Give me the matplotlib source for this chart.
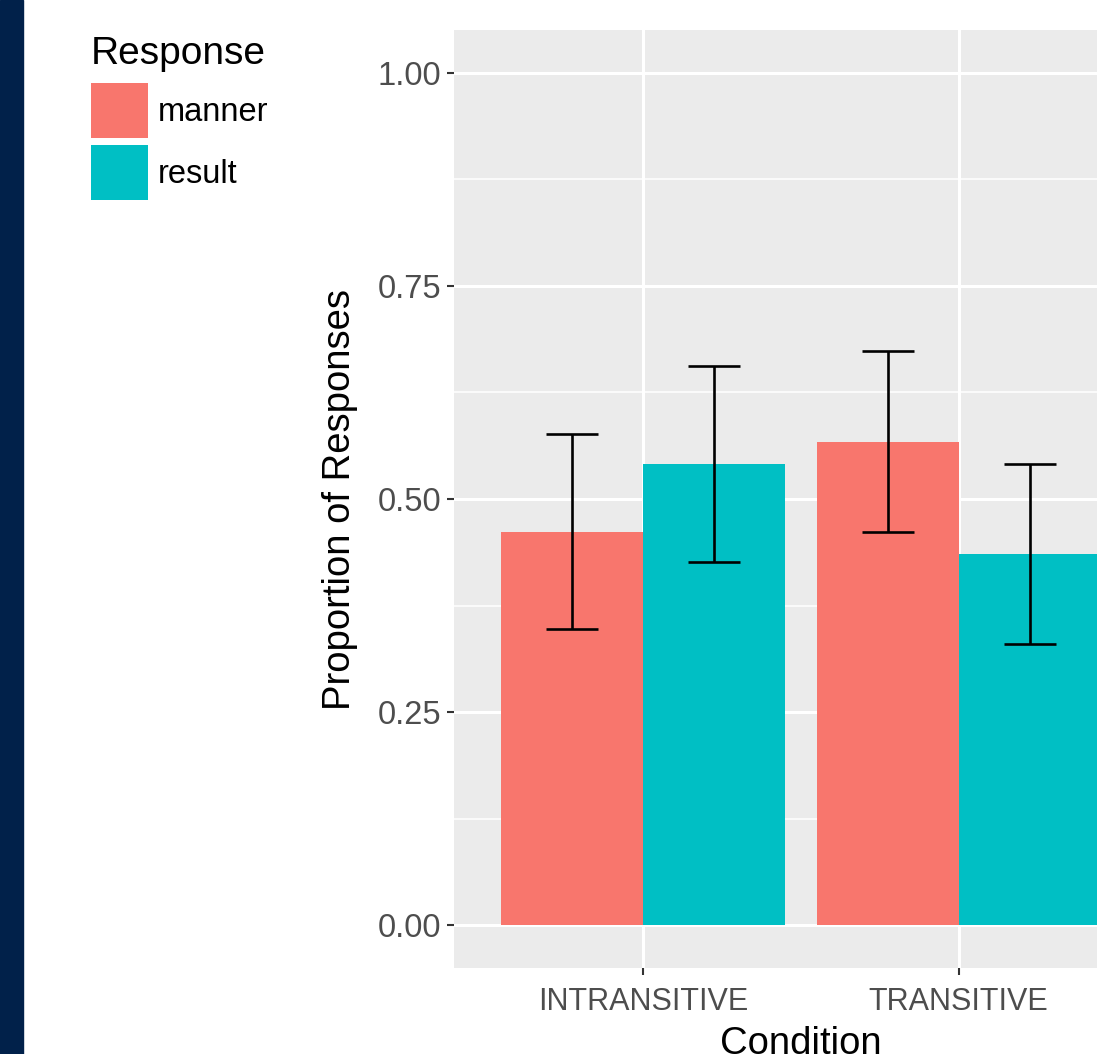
import matplotlib
matplotlib.use("Agg")
import matplotlib.pyplot as plt
import matplotlib.patches as mpatches
import numpy as np

plt.rcParams['font.family'] = ['Liberation Sans', 'DejaVu Sans']

MANNER_COLOR = '#F8766D'
RESULT_COLOR = '#00BFC4'
PANEL_COLOR = '#EBEBEB'
NAVY = '#01214A'

# data
conditions = ['INTRANSITIVE', 'TRANSITIVE']
responses = ['manner', 'result']
manner_mean = [0.461, 0.567]
manner_low = [0.348, 0.461]
manner_high = [0.576, 0.673]
result_mean = [0.541, 0.436]
result_low = [0.426, 0.330]
result_high = [0.656, 0.541]

fig = plt.figure(figsize=(10.97, 10.54), dpi=100)
fig.patch.set_facecolor('white')
# dark strip on the left edge of the slide
fig.patches.append(mpatches.Rectangle((0, 0), 23 / 1097, 1, transform=fig.transFigure,
                                      color=NAVY, zorder=0))

# the panel runs past the right edge of the picture (it is cropped)
ax = fig.add_axes((454 / 1097, 1 - 968 / 1054, (1148 - 454) / 1097, 938 / 1054))
ax.set_facecolor(PANEL_COLOR)

index = np.arange(1, len(conditions) + 1)
width = 0.45

series = [(manner_mean, manner_low, manner_high, MANNER_COLOR, -width / 2),
          (result_mean, result_low, result_high, RESULT_COLOR, width / 2)]
for (mean, low, high, color, off), name in zip(series, responses):
    mean = np.array(mean)
    err = [mean - np.array(low), np.array(high) - mean]
    ax.bar(index + off, mean, width, color=color, label=name, zorder=3)
    ax.errorbar(index + off, mean, yerr=err, fmt='none', ecolor='black',
                elinewidth=1.9, capsize=19, capthick=1.9, zorder=4)

ax.set_xlim(0.4, 2.6)
ax.set_ylim(-0.05, 1.05)
ax.set_xticks(index)
ax.set_xticklabels(conditions)
ax.set_yticks([0, 0.25, 0.5, 0.75, 1.0])
ax.set_yticklabels(['0.00', '0.25', '0.50', '0.75', '1.00'])
ax.set_yticks([0.125, 0.375, 0.625, 0.875], minor=True)
ax.grid(which='major', color='white', linewidth=2.2, zorder=0)
ax.grid(which='minor', axis='y', color='white', linewidth=1.1, zorder=0)
ax.set_axisbelow(True)
for s in ax.spines.values():
    s.set_visible(False)
ax.tick_params(axis='both', which='major', labelcolor='#4D4D4D',
               color='#333333', length=5, width=1.5)
ax.tick_params(axis='x', which='major', labelsize=22, pad=9)
ax.tick_params(axis='y', which='major', labelsize=23.5, pad=4)
ax.tick_params(axis='both', which='minor', length=0)

ax.set_xlabel('Condition', fontsize=27.5, color='black', labelpad=6)
ax.set_ylabel('Proportion of Responses', fontsize=27.5, color='black', labelpad=14)

# square-ish ggplot style keys
leg = ax.legend(loc='upper left', bbox_to_anchor=(91 / 1097, 1 - 36 / 1054),
                bbox_transform=fig.transFigure, frameon=False, title='Response',
                fontsize=23.5, title_fontsize=28, handlelength=1.75, handleheight=2.22,
                labelspacing=0.21, handletextpad=0.3, borderpad=0, borderaxespad=0,
                alignment='left')
leg._legend_box.sep = 8  # a bit more room under the title

fig.savefig('out.png', dpi=100)
